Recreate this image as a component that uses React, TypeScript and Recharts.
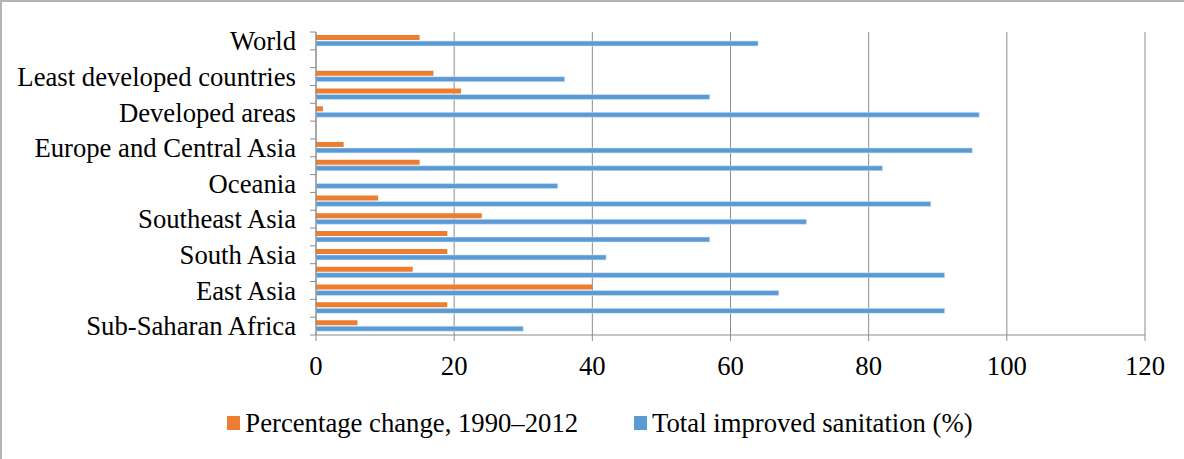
import React from "react";
import {
  BarChart,
  Bar,
  XAxis,
  YAxis,
  CartesianGrid,
} from "recharts";

// regions, top to bottom; Excel only labels every other row
const regions = [
  "World",
  "",
  "Least developed countries",
  "",
  "Developed areas",
  "",
  "Europe and Central Asia",
  "",
  "Oceania",
  "",
  "Southeast Asia",
  "",
  "South Asia",
  "",
  "East Asia",
  "",
  "Sub-Saharan Africa",
];

const percentageChange = [15, null, 17, 21, 1, null, 4, 15, 0, 9, 24, 19, 19, 14, 40, 19, 6];
const totalSanitation = [64, null, 36, 57, 96, null, 95, 82, 35, 89, 71, 57, 42, 91, 67, 91, 30];

const xTicks = [0, 20, 40, 60, 80, 100, 120];

const data = regions.map((name, i) => ({
  name,
  change: percentageChange[i],
  total: totalSanitation[i],
}));

const WIDTH = 1184;
const HEIGHT = 459;
const X_AXIS_H = 30;
// plot area: x 316..1145, y 32..335
const MARGIN = { top: 32, right: 39, bottom: 124 - X_AXIS_H, left: 0 };
const AXIS_X = 316;
const BAND = (HEIGHT - 32 - 124) / regions.length;
const FONT = "'Liberation Serif', 'Times New Roman', serif";
const FONT_SIZE = 26.7;
const ORANGE = "#ED7D31";
const BLUE = "#5B9BD5";
const GRID = "#8c8c8c";

const CategoryTick = (props: any) => {
  const { x, y, payload, index } = props;
  return (
    <g>
      <line x1={AXIS_X - 6} x2={AXIS_X} y1={y - BAND / 2} y2={y - BAND / 2} stroke={GRID} />
      {index === regions.length - 1 && (
        <line x1={AXIS_X - 6} x2={AXIS_X} y1={y + BAND / 2} y2={y + BAND / 2} stroke={GRID} />
      )}
      <text x={x} y={y} dy="0.35em" textAnchor="end" fill="#000" fontSize={FONT_SIZE} fontFamily={FONT}>
        {payload.value}
      </text>
    </g>
  );
};

const legendItems = [
  { label: "Percentage change, 1990\u20132012", color: ORANGE },
  { label: "Total improved sanitation (%)", color: BLUE },
];

const ChartLegend = () => (
  <div
    style={{
      position: "absolute",
      left: 0,
      top: 406,
      width: WIDTH,
      display: "flex",
      justifyContent: "center",
      gap: 56,
      paddingLeft: 16,
      boxSizing: "border-box",
      fontFamily: FONT,
      fontSize: FONT_SIZE,
      lineHeight: "34px",
      color: "#000",
    }}
  >
    {legendItems.map((item) => (
      <div key={item.label} style={{ display: "flex", alignItems: "center" }}>
        <span
          style={{
            width: 13,
            height: 14,
            flexShrink: 0,
            background: item.color,
            marginRight: 5,
            display: "inline-block",
          }}
        />
        <span style={{ whiteSpace: "nowrap" }}>{item.label}</span>
      </div>
    ))}
  </div>
);

export default function App() {
  return (
    <div
      style={{
        position: "absolute",
        left: 0,
        top: 0,
        width: WIDTH,
        height: HEIGHT,
        background: "#fff",
        borderTop: "2px solid #b4b4b4",
        borderLeft: "2px solid #b4b4b4",
        boxSizing: "border-box",
      }}
    >
      <div style={{ position: "absolute", left: -2, top: -2 }}>
        <BarChart
          width={WIDTH}
          height={HEIGHT}
          data={data}
          layout="vertical"
          margin={MARGIN}
          barSize={5}
          barGap={1}
        >
          <CartesianGrid horizontal={false} stroke={GRID} />
          <XAxis
            type="number"
            domain={[0, 120]}
            ticks={xTicks}
            height={X_AXIS_H}
            axisLine={{ stroke: GRID }}
            tickLine={{ stroke: GRID }}
            tickSize={6}
            tickMargin={15}
            tick={{ fill: "#000", fontSize: FONT_SIZE, fontFamily: FONT }}
          />
          <YAxis
            type="category"
            dataKey="name"
            width={AXIS_X}
            interval={0}
            axisLine={{ stroke: GRID }}
            tickLine={false}
            tickSize={6}
            tickMargin={14}
            tick={<CategoryTick />}
          />
          <Bar dataKey="change" name="Percentage change, 1990–2012" fill={ORANGE} isAnimationActive={false} />
          <Bar
            dataKey="total"
            name="Total improved sanitation (%)"
            fill={BLUE}
            stroke="#d6e6f5"
            strokeWidth={0.6}
            isAnimationActive={false}
          />
        </BarChart>
        <ChartLegend />
      </div>
    </div>
  );
}
